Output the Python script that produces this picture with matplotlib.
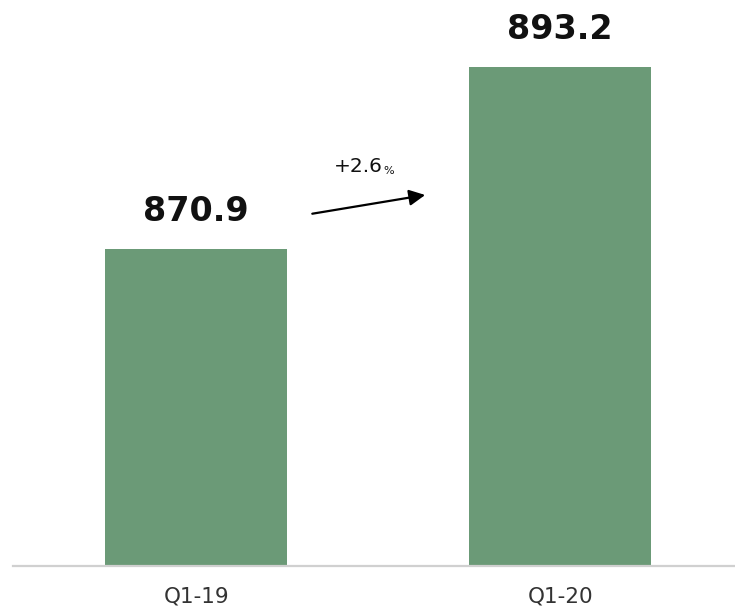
import matplotlib
matplotlib.use("Agg")
import matplotlib.pyplot as plt

# Quarterly totals
categories = ["Q1-19", "Q1-20"]
values = [870.9, 893.2]
growth_label = "+2.6"

bar_color = "#6b9a77"

fig = plt.figure(figsize=(7.35, 6.09), dpi=100)
ax = fig.add_axes([13 / 735, 43.5 / 609, 722 / 735, 565.5 / 609])

x = list(range(len(categories)))
ax.bar(x, values, width=0.5, color=bar_color, zorder=2)

ax.set_xlim(-0.503, 1.48)
ax.set_ylim(832.0, 832.0 + 565.5 / 8.143)

for xi, v in zip(x, values):
    ax.annotate(f"{v:.1f}", xy=(xi, v), xytext=(0, 15), textcoords="offset points",
                ha="center", va="bottom", fontsize=24, fontweight="bold",
                family="DejaVu Sans", color="#111111")

# Growth arrow between the two bars
ax.annotate("", xy=(0.629, 877.5), xytext=(0.319, 875.2),
            arrowprops=dict(arrowstyle="-|>", color="black", lw=1.6,
                            mutation_scale=24, shrinkA=0, shrinkB=0))
ax.text(0.445, 881.0, growth_label, ha="center", va="center", fontsize=14.5,
        family="DejaVu Sans", color="#111111")
ax.text(0.528, 880.4, "%", ha="center", va="center", fontsize=8,
        family="DejaVu Sans", color="#111111")

ax.set_xticks(x)
ax.set_xticklabels(categories, fontsize=15.5, family="DejaVu Sans", color="#333333")
ax.tick_params(axis="x", length=0, pad=15)
ax.set_yticks([])
for side in ["left", "right", "top"]:
    ax.spines[side].set_visible(False)
ax.spines["bottom"].set_color("#d0d0d0")
ax.spines["bottom"].set_linewidth(1.6)

fig.savefig("out.png", dpi=100)
